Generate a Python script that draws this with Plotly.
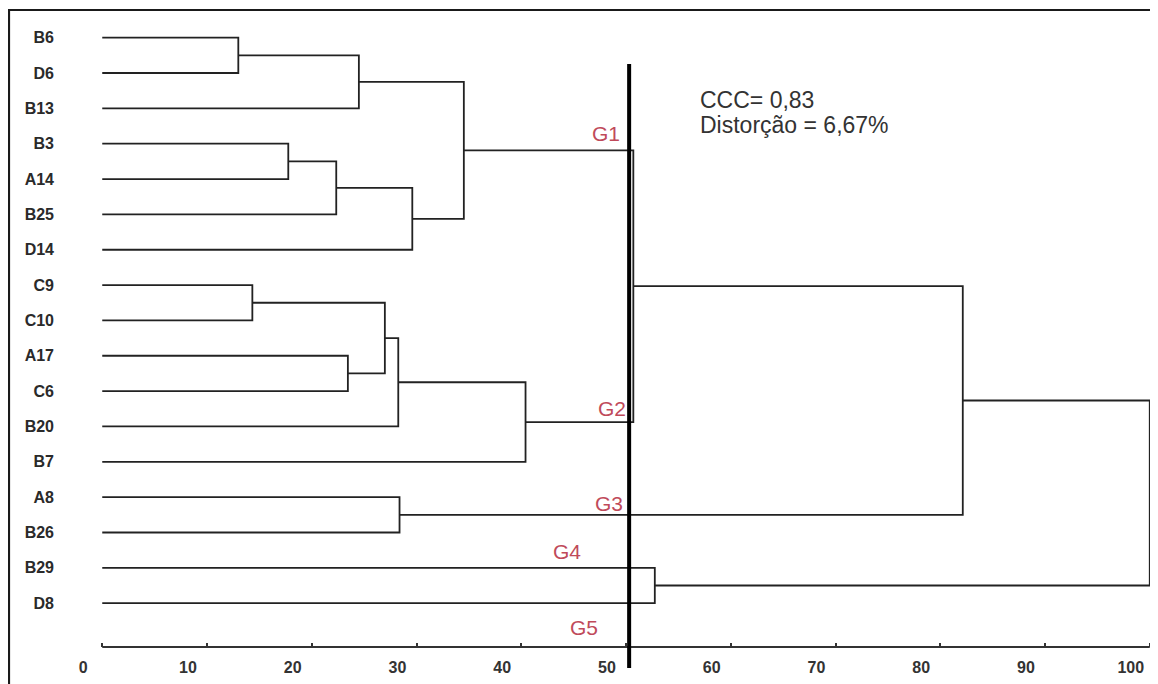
import plotly.graph_objects as go

# ---------------- data ----------------
leaves = ["B6", "D6", "B13", "B3", "A14", "B25", "D14", "C9", "C10",
          "A17", "C6", "B20", "B7", "A8", "B26", "B29", "D8"]
# merges: node ids 0..16 are leaves, merge k creates node 17+k
merge_left = [0, 17, 3, 19, 20, 18, 7, 9, 23, 25, 26, 22, 13, 28, 15, 30]
merge_right = [1, 2, 4, 5, 6, 21, 8, 10, 24, 11, 12, 27, 14, 29, 16, 31]
merge_height = [12.99, 24.50, 17.76, 22.34, 29.60, 34.52, 14.33, 23.45,
                26.98, 28.26, 40.41, 50.70, 28.38, 82.15, 52.75, 100.0]
x_ticks = [0, 10, 20, 30, 40, 50, 60, 70, 80, 90, 100]
cut_value = 50.3
group_labels = ["G1", "G2", "G3", "G4", "G5"]
group_x = [49.6, 50.2, 49.9, 45.9, 47.5]
group_y = [2.72, 10.5, 13.19, 14.55, 16.7]
stats_lines = ["CCC= 0,83", "Distorção = 6,67%"]

# ---------------- build dendrogram paths ----------------
n = len(leaves)
node_x = {i: 0.0 for i in range(n)}
node_y = {i: float(i) for i in range(n)}
xs, ys = [], []
for k, (a, b, h) in enumerate(zip(merge_left, merge_right, merge_height)):
    xs += [node_x[a], h, h, node_x[b], None]
    ys += [node_y[a], node_y[a], node_y[b], node_y[b], None]
    node_x[n + k] = h
    node_y[n + k] = (node_y[a] + node_y[b]) / 2

# page has an 8px body margin, so the figure sits at (8, 8) on screen
OFF = 8
W, H = 1158 - OFF, 684 - OFF
ML, MR, MT, MB = 97 - OFF, 3, 20 - OFF, 37
pw, ph = W - ML - MR, H - MT - MB
Y_BOTTOM = 17.24
Y_TOP = -0.5


def px_to_paper_x(px):  # screen px -> paper
    return (px - OFF - ML) / pw


def px_to_paper_y(py):
    return (H - MB - (py - OFF)) / ph


fig = go.Figure()
fig.add_trace(go.Scatter(x=xs, y=ys, mode="lines",
                         line=dict(color="#222222", width=1.8),
                         hoverinfo="skip", showlegend=False))

font_family = "Arial, Liberation Sans, sans-serif"

# axis line (0..100)
fig.add_shape(type="line", xref="x", yref="paper", x0=0, x1=100, y0=0, y1=0,
              line=dict(color="#333333", width=2))
# cut line
fig.add_shape(type="line", xref="x", yref="paper", x0=cut_value, x1=cut_value,
              y0=px_to_paper_y(668), y1=px_to_paper_y(64),
              line=dict(color="#000000", width=4))
# outer frame (left and top)
fig.add_shape(type="path", xref="paper", yref="paper",
              path=(f"M {px_to_paper_x(9)} {px_to_paper_y(690)} "
                    f"L {px_to_paper_x(9)} {px_to_paper_y(10)} "
                    f"L {px_to_paper_x(1165)} {px_to_paper_y(10)}"),
              line=dict(color="#1a1a1a", width=2.2))

for lab, gx, gy in zip(group_labels, group_x, group_y):
    fig.add_annotation(x=gx, y=gy, text=lab, showarrow=False,
                       xanchor="right", yanchor="middle",
                       font=dict(family=font_family, size=21, color="#c04a5a"))

for line_txt, yy in zip(stats_lines, [1.75, 2.47]):
    fig.add_annotation(x=56.9, y=yy, text=line_txt, showarrow=False,
                       xanchor="left", yanchor="middle",
                       font=dict(family=font_family, size=23, color="#333333"))

fig.update_layout(
    width=W, height=H,
    margin=dict(l=ML, r=MR, t=MT, b=MB, pad=0),
    paper_bgcolor="white", plot_bgcolor="white",
    showlegend=False,
    xaxis=dict(range=[-0.5, 100.5], tickvals=x_ticks,
               ticktext=[str(v) for v in x_ticks],
               ticks="inside", ticklen=4, tickwidth=1.5, tickcolor="#333333",
               showline=False, showgrid=False, zeroline=False,
               ticklabelshift=-19, ticklabelstandoff=9,
               tickfont=dict(family=font_family, size=16, color="#333333",
                             weight="bold")),
    yaxis=dict(range=[Y_BOTTOM, Y_TOP], tickvals=list(range(n)),
               ticktext=leaves, ticks="", showline=False, showgrid=False,
               zeroline=False, ticklabelstandoff=42,
               tickfont=dict(family=font_family, size=16, color="#2a2a2a",
                             weight="bold")),
)

fig.write_html("out.html")
